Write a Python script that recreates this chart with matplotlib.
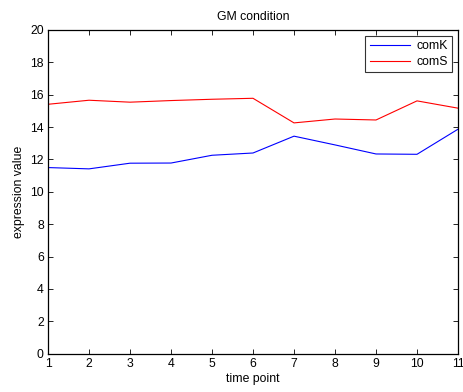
import matplotlib
matplotlib.use("Agg")
import matplotlib.pyplot as plt

plt.rcParams['font.family'] = ['Liberation Sans', 'DejaVu Sans']

time_points = [1, 2, 3, 4, 5, 6, 7, 8, 9, 10, 11]
comK = [11.50, 11.42, 11.77, 11.78, 12.26, 12.40, 13.44, 12.90, 12.34, 12.32, 13.87]
comS = [15.41, 15.66, 15.54, 15.64, 15.72, 15.78, 14.26, 14.50, 14.44, 15.62, 15.17]

FS = 8.8

fig = plt.figure(figsize=(4.63, 3.92), dpi=100)
ax = fig.add_axes([0.1037, 0.0977, 0.8855, 0.8258])

ax.plot(time_points, comK, color='#0000ff', lw=0.8, label='comK')
ax.plot(time_points, comS, color='#ff0000', lw=0.8, label='comS')

ax.set_xlim(1, 11)
ax.set_ylim(0, 20)
ax.set_xticks(range(1, 12))
ax.set_yticks(range(0, 21, 2))
ax.tick_params(direction='in', top=True, right=True, length=3.5, width=0.6,
               labelsize=FS, pad=3)
for s in ax.spines.values():
    s.set_linewidth(0.9)

ax.set_title('GM condition', fontsize=FS, pad=7)
ax.set_xlabel('time point', fontsize=FS, labelpad=2)
ax.set_ylabel('expression value', fontsize=FS, labelpad=4)

leg = ax.legend(loc='upper right', fontsize=FS, frameon=True, fancybox=False,
                edgecolor='black', borderaxespad=0.5, handlelength=3.3,
                handletextpad=0.5, borderpad=0.35, labelspacing=0.3)
leg.get_frame().set_linewidth(0.8)

fig.savefig('out.png', dpi=100)
